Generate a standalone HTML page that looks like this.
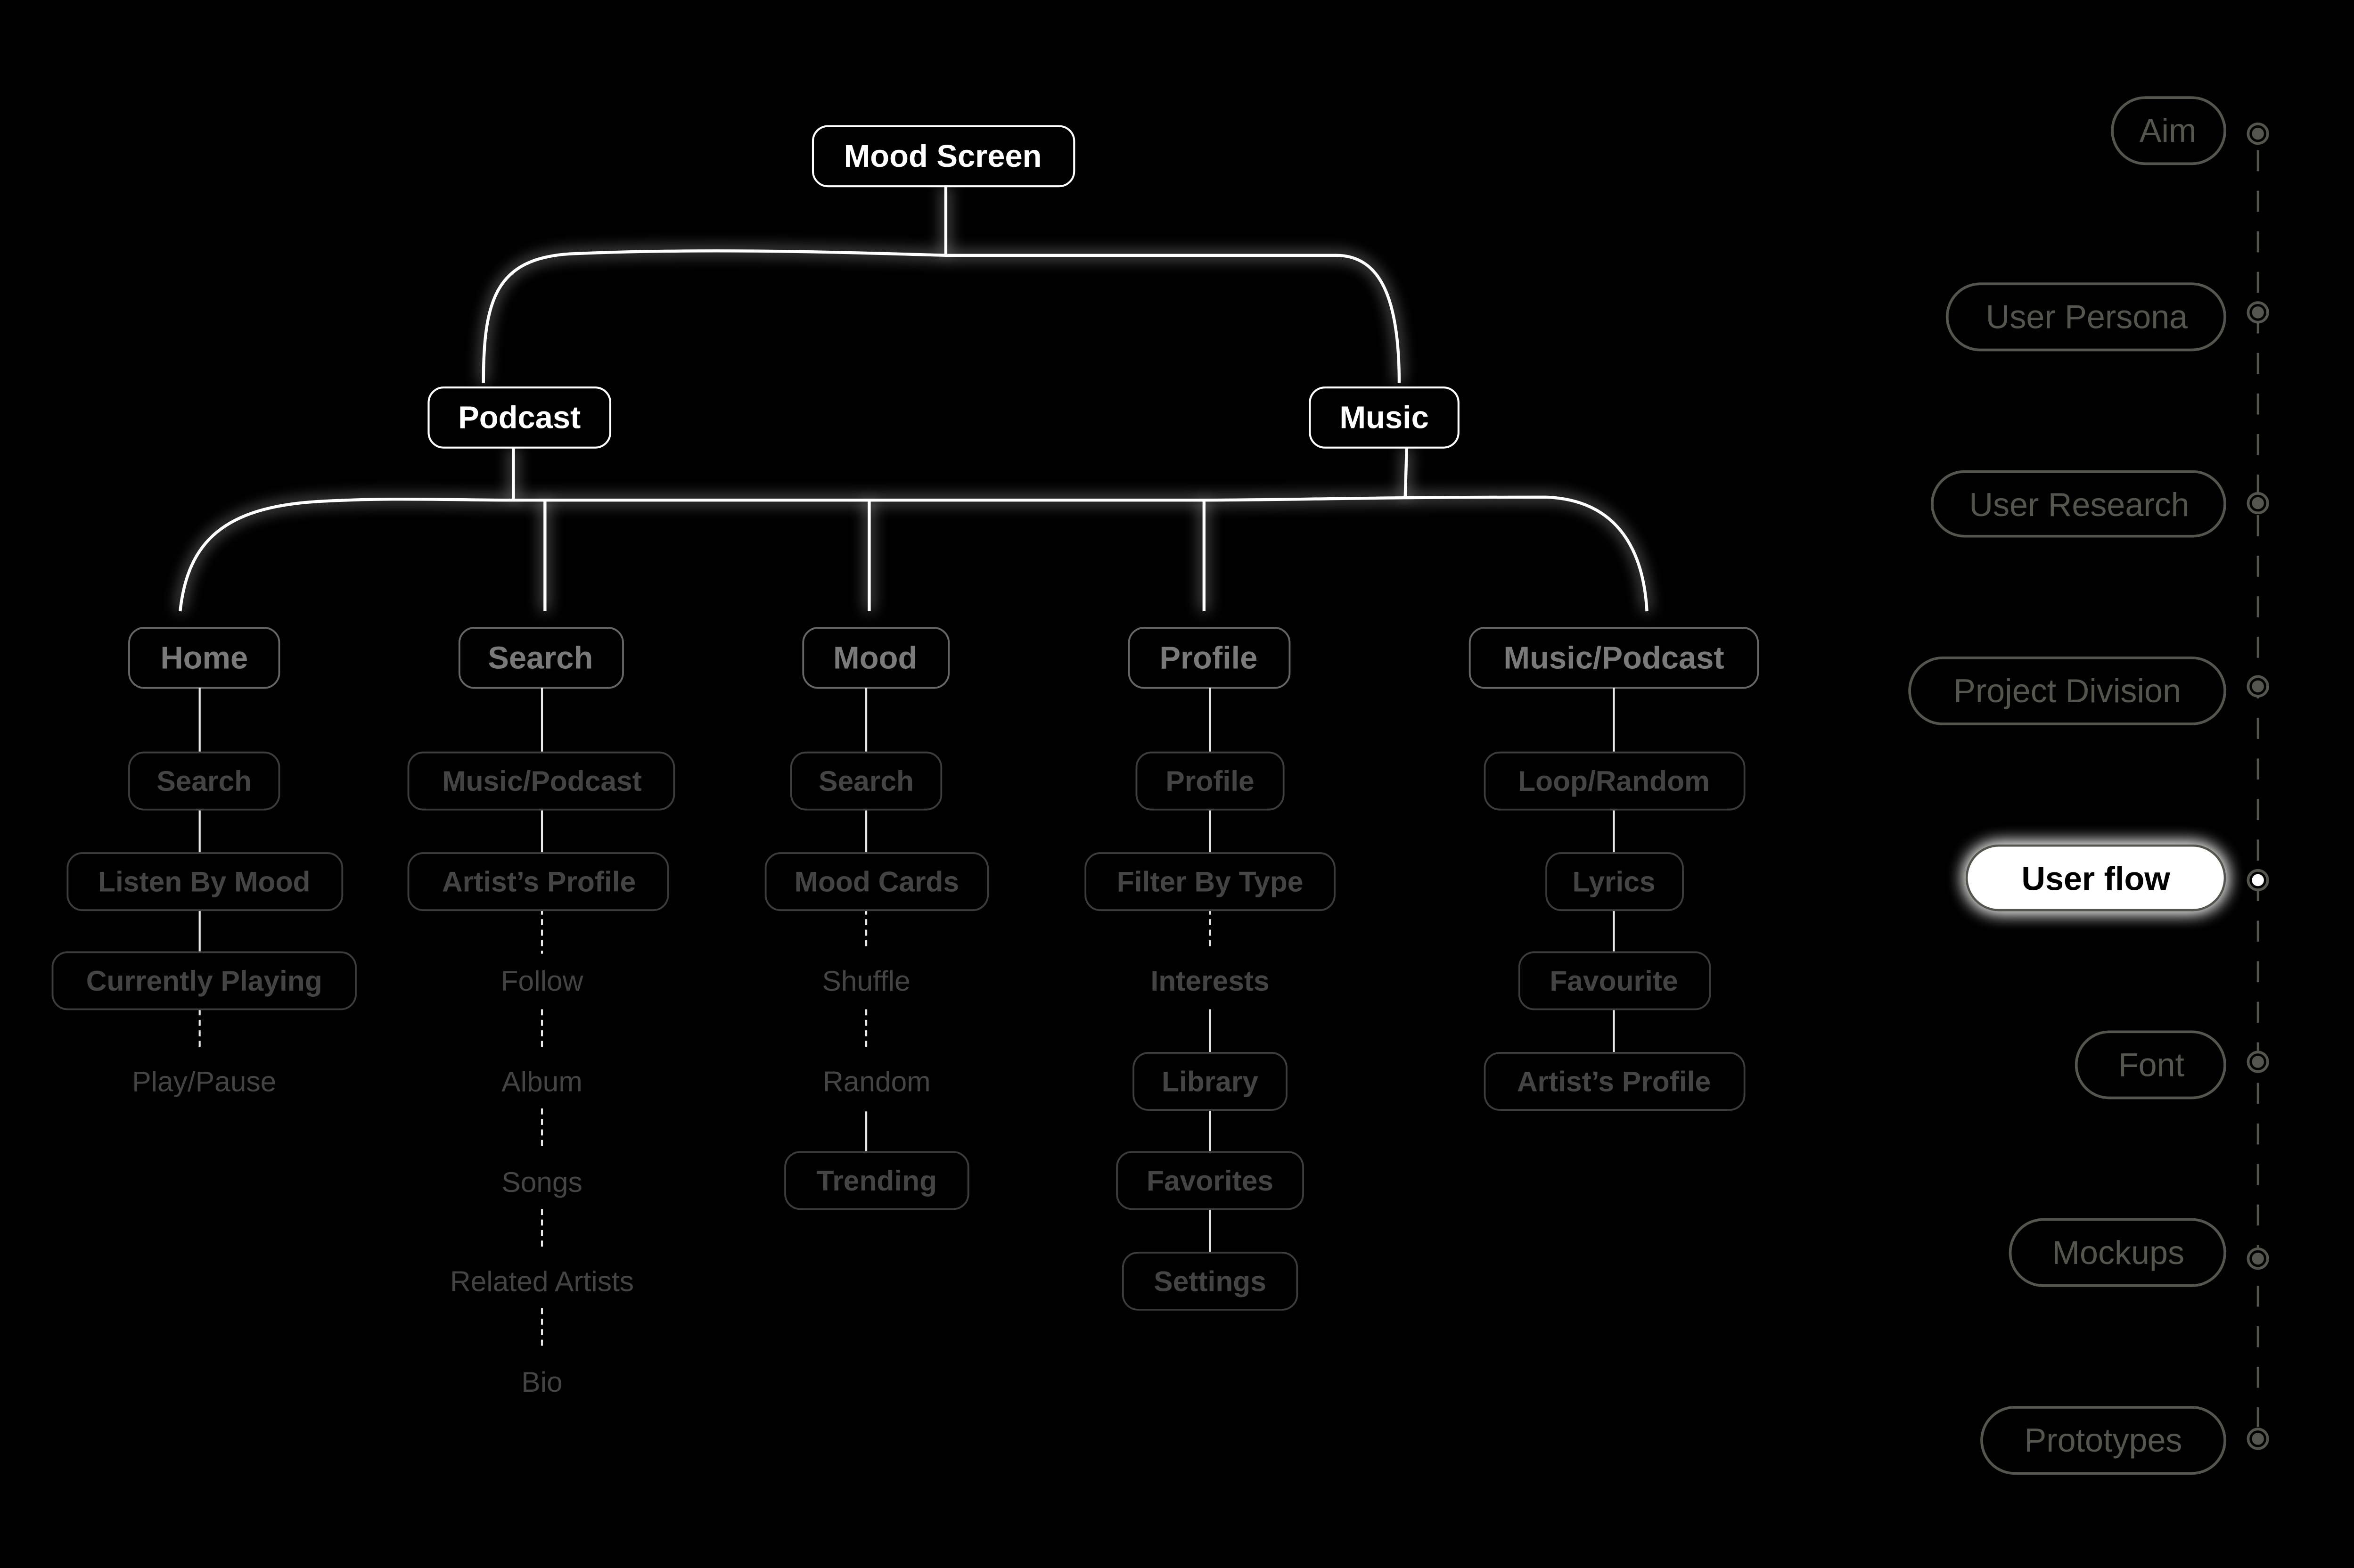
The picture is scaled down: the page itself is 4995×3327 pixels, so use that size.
<!DOCTYPE html>
<html><head><meta charset="utf-8"><style>
html,body{margin:0;padding:0;background:#000;}
svg{display:block;}
text{font-family:"Liberation Sans",sans-serif;text-anchor:middle;dominant-baseline:central;}
.b{font-weight:bold;}
</style></head><body>
<svg width="4995" height="3327" viewBox="0 0 1568 1044" preserveAspectRatio="none" xmlns="http://www.w3.org/2000/svg">
<defs>
<filter id="glow" x="-20%" y="-20%" width="140%" height="140%">
<feGaussianBlur stdDeviation="5" result="b"/>
<feMerge><feMergeNode in="b"/><feMergeNode in="SourceGraphic"/></feMerge>
</filter>
<filter id="glow2" x="-30%" y="-60%" width="160%" height="220%">
<feGaussianBlur stdDeviation="6" result="b"/>
<feMerge><feMergeNode in="b"/><feMergeNode in="b"/><feMergeNode in="SourceGraphic"/></feMerge>
</filter>
</defs>
<rect width="1568" height="1044" fill="#000"/>

<!-- top tree connectors -->
<g fill="none" stroke="#fff" stroke-width="2" filter="url(#glow)">
<path d="M630 124 V170"/>
<path d="M322 255 C322 200 330 172 380 169 C470 165 560 168 630 170 H890 C920 170 932 200 932 255"/>
<path d="M342 298 V333"/>
<path d="M937 298 L936 331"/>
<path d="M120 407 C125 360 150 338 210 334 C260 331 300 333 342 333 H800 C860 333 900 331 1030 331 C1080 333 1095 370 1097 407"/>
<path d="M363 333 V407 M579 333 V407 M802 333 V407"/>
</g>

<!-- top nodes -->
<g stroke="#fff" stroke-width="1.3" fill="#000">
<rect x="541.5" y="84" width="174" height="40" rx="10"/>
<rect x="285.5" y="258" width="121" height="40" rx="10"/>
<rect x="872.5" y="258" width="99" height="40" rx="10"/>
</g>
<g fill="#fff" class="b" font-size="21">
<text x="628" y="104" class="b">Mood Screen</text>
<text x="346" y="278" class="b">Podcast</text>
<text x="922" y="278" class="b">Music</text>
</g>

<!-- level 2 -->
<g stroke="#666" stroke-width="1.2" fill="#000">
<rect x="86" y="418" width="100" height="40" rx="10"/>
<rect x="306" y="418" width="109" height="40" rx="10"/>
<rect x="535" y="418" width="97" height="40" rx="10"/>
<rect x="752" y="418" width="107" height="40" rx="10"/>
<rect x="979" y="418" width="192" height="40" rx="10"/>
</g>
<g fill="#7a7a7a" font-size="21" font-weight="bold">
<text x="136" y="438">Home</text>
<text x="360" y="438">Search</text>
<text x="583" y="438">Mood</text>
<text x="805" y="438">Profile</text>
<text x="1075" y="438">Music/Podcast</text>
</g>

<!-- connectors level 3 -->
<g stroke="#e8e8e8" stroke-width="1.3" fill="none">
<path d="M133 458 V501 M133 539 V568 M133 605 V634"/>
<path d="M133 672 V698" stroke-dasharray="4 3"/>
<path d="M361 458 V501 M361 539 V568"/>
<path d="M361 605 V635 M361 672 V700 M361 738 V766 M361 805 V832 M361 871 V898" stroke-dasharray="4 3"/>
<path d="M577 458 V501 M577 539 V568 M577 740 V768"/>
<path d="M577 605 V633 M577 672 V698" stroke-dasharray="4 3"/>
<path d="M806 458 V501 M806 539 V568 M806 672 V701 M806 738 V768 M806 805 V834"/>
<path d="M806 605 V633" stroke-dasharray="4 3"/>
<path d="M1075 458 V501 M1075 539 V568 M1075 605 V634 M1075 672 V701"/>
</g>

<!-- level 3 boxes -->
<g stroke="#3c3c3c" stroke-width="1.2" fill="#000">
<rect x="86" y="501" width="100" height="38" rx="10"/>
<rect x="45" y="568" width="183" height="38" rx="10"/>
<rect x="35" y="634" width="202" height="38" rx="10"/>
<rect x="272" y="501" width="177" height="38" rx="10"/>
<rect x="272" y="568" width="173" height="38" rx="10"/>
<rect x="527" y="501" width="100" height="38" rx="10"/>
<rect x="510" y="568" width="148" height="38" rx="10"/>
<rect x="523" y="767" width="122" height="38" rx="10"/>
<rect x="757" y="501" width="98" height="38" rx="10"/>
<rect x="723" y="568" width="166" height="38" rx="10"/>
<rect x="755" y="701" width="102" height="38" rx="10"/>
<rect x="744" y="767" width="124" height="38" rx="10"/>
<rect x="748" y="834" width="116" height="38" rx="10"/>
<rect x="989" y="501" width="173" height="38" rx="10"/>
<rect x="1030" y="568" width="91" height="38" rx="10"/>
<rect x="1012" y="634" width="127" height="38" rx="10"/>
<rect x="989" y="701" width="173" height="38" rx="10"/>
</g>
<g fill="#444" font-size="19" font-weight="bold">
<text x="136" y="520">Search</text>
<text x="136" y="587">Listen By Mood</text>
<text x="136" y="653">Currently Playing</text>
<text x="361" y="520">Music/Podcast</text>
<text x="359" y="587">Artist’s Profile</text>
<text x="577" y="520">Search</text>
<text x="584" y="587">Mood Cards</text>
<text x="584" y="786">Trending</text>
<text x="806" y="520">Profile</text>
<text x="806" y="587">Filter By Type</text>
<text x="806" y="653">Interests</text>
<text x="806" y="720">Library</text>
<text x="806" y="786">Favorites</text>
<text x="806" y="853">Settings</text>
<text x="1075" y="520">Loop/Random</text>
<text x="1075" y="587">Lyrics</text>
<text x="1075" y="653">Favourite</text>
<text x="1075" y="720">Artist’s Profile</text>
</g>
<g fill="#444" font-size="19">
<text x="136" y="720">Play/Pause</text>
<text x="361" y="653">Follow</text>
<text x="361" y="720">Album</text>
<text x="361" y="787">Songs</text>
<text x="361" y="853">Related Artists</text>
<text x="361" y="920">Bio</text>
<text x="577" y="653">Shuffle</text>
<text x="584" y="720">Random</text>
</g>

<!-- sidebar -->
<path d="M1504 100 V950" stroke="#55554f" stroke-width="1.5" stroke-dasharray="14 13" fill="none"/>
<g stroke="#55554f" stroke-width="1.8" fill="#000">
<rect x="1407" y="65" width="75" height="44" rx="22"/>
<rect x="1297" y="189" width="185" height="44" rx="22"/>
<rect x="1287" y="314" width="195" height="43" rx="21.5"/>
<rect x="1272" y="438" width="210" height="44" rx="22"/>
<rect x="1383" y="687" width="99" height="44" rx="22"/>
<rect x="1339" y="812" width="143" height="44" rx="22"/>
<rect x="1320" y="937" width="162" height="44" rx="22"/>
</g>
<g fill="#55554f" font-size="22">
<text x="1444" y="87">Aim</text>
<text x="1390" y="211">User Persona</text>
<text x="1385" y="336">User Research</text>
<text x="1377" y="460">Project Division</text>
<text x="1433" y="709">Font</text>
<text x="1411" y="834">Mockups</text>
<text x="1401" y="959">Prototypes</text>
</g>
<rect x="1310" y="563" width="172" height="43" rx="21.5" fill="#fff" stroke="#55554f" stroke-width="1.5" filter="url(#glow2)"/>
<text x="1396" y="585" fill="#000" font-size="22" font-weight="bold">User flow</text>
<g stroke="#55554f" stroke-width="1.8" fill="#000">
<circle cx="1504" cy="89" r="6.5"/><circle cx="1504" cy="208" r="6.5"/><circle cx="1504" cy="335" r="6.5"/>
<circle cx="1504" cy="457" r="6.5"/><circle cx="1504" cy="586" r="6.5"/><circle cx="1504" cy="707" r="6.5"/>
<circle cx="1504" cy="838" r="6.5"/><circle cx="1504" cy="958" r="6.5"/>
</g>
<g fill="#55554f">
<circle cx="1504" cy="89" r="4"/><circle cx="1504" cy="208" r="4"/><circle cx="1504" cy="335" r="4"/>
<circle cx="1504" cy="457" r="4"/><circle cx="1504" cy="707" r="4"/>
<circle cx="1504" cy="838" r="4"/><circle cx="1504" cy="958" r="4"/>
</g>
<circle cx="1504" cy="586" r="4" fill="#fff"/>
</svg>
</body></html>
